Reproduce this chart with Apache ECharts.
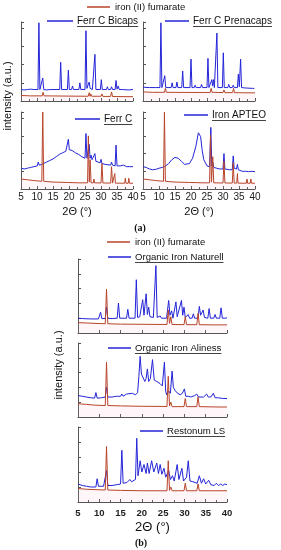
<!DOCTYPE html>
<html><head><meta charset="utf-8">
<script src="https://cdn.jsdelivr.net/npm/echarts@6/dist/echarts.min.js"></script>
<style>html,body{margin:0;padding:0;background:#fff}#c{width:281px;height:550px}</style>
</head><body><div id="c"></div>
<script>
// ---------- DATA (2θ in degrees, intensity in a.u. as % of panel height) ----------
const fumarateName = 'iron (II) fumarate';
const sampleNames = ['Ferr C Bicaps', 'Ferr C Prenacaps', 'Ferr C', 'Iron APTEO',
  'Organic Iron Naturell', 'Organic Iron Aliness', 'Restonum LS'];
const xTickLabels = [5, 10, 15, 20, 25, 30, 35, 40];

const bicaps = [[5,14.5],[6,14],[7,14.5],[8,15],[9,14.5],[10.3,14.5],[10.6,99],[10.9,14.5],[11.5,14.5],[11.8,29],[12.1,14.5],[13,14],[14,14.5],[15.3,14.5],[15.6,16.5],[15.9,14.5],[17.1,14.5],[17.4,49],[17.7,14.5],[19.5,14.5],[19.8,39],[20.1,14.5],[20.8,14.5],[21.1,19],[21.4,14.5],[23.1,14.5],[23.4,23],[23.7,14.5],[25.0,14.5],[25.3,89],[25.6,16],[26.0,16],[26.3,24],[26.6,16],[27,17],[27.3,14.5],[27.8,14.5],[28.1,59],[28.4,14.5],[29.8,14.5],[30.1,27],[30.4,14.5],[31.7,14.5],[32,18],[32.3,14.5],[33,14.5],[33.3,18],[33.6,14.5],[34.4,14.5],[34.7,26],[35.0,15],[35.4,19],[35.7,14.5],[36.7,14.5],[37,15.5],[37.3,14],[38.5,14],[38.8,16],[39.1,14],[40,14.5]];
const fumA1 = [[5,7],[8,6.5],[11.6,6.5],[11.9,11],[12.2,6.5],[20,6.2],[26.0,6],[26.3,10.5],[26.6,6],[26.8,9],[27.1,6],[30.0,6],[30.3,9],[30.6,5.8],[33.0,5.8],[33.3,11.5],[33.6,5.7],[37.5,5.5],[40,5.5]];

const prenacaps = [[5,17.5],[7,17],[9,17],[10.3,17],[10.6,99],[10.9,17],[11.5,17],[11.8,32],[12.1,17],[13.8,17],[14.1,23],[14.4,17],[15.3,17],[15.6,24],[15.9,17],[17.1,17],[17.4,38],[17.7,17],[19.7,17],[20,53],[20.3,17],[21,17],[21.3,20],[21.6,17],[23,17],[23.3,21],[23.6,17],[25,17],[25.3,54],[25.6,17],[26.2,18],[26.5,27],[26.75,19],[27,27],[27.3,17],[27.8,17],[28.1,86],[28.4,17],[29.8,17],[30.1,61],[30.4,17],[31.5,17],[31.8,21],[32.1,17],[32.9,17],[33.2,20],[33.5,17],[34.5,17],[34.8,34],[35.1,18],[35.5,53],[35.8,17],[36.9,16.5],[37.2,19],[37.5,16.5],[39.2,16],[39.5,18],[39.8,16],[40,16]];
const fumA2 = [[5,11.5],[8,11],[11.7,11],[12,16],[12.3,11],[20,10.8],[26,10.8],[26.3,16],[26.6,11],[26.8,13],[27.1,10.8],[30,10.7],[30.3,14],[30.6,10.6],[33,10.6],[33.3,16],[33.6,10.5],[40,10.3]];

const ferrC = [[5,27],[6,26],[7,27],[8,28],[9,29],[10.1,30],[10.4,35],[10.7,31],[11.5,32],[12,33],[13,35],[14,37],[15,39],[16,42],[17,45],[18,47],[19,49],[19.5,50],[19.8,64.5],[20.1,51],[21,50],[22,47],[23,45],[24,42],[25,40],[25.3,72],[25.6,40],[26.0,40],[26.3,58],[26.6,40],[26.9,44],[27.2,38],[27.8,37],[28.1,46],[28.4,36],[29,35],[29.7,34],[30,38.5],[30.3,33],[31.3,32],[31.6,33],[31.9,31],[33,31],[33.3,35],[33.6,31],[34.4,30],[34.7,57],[35,30],[36,30],[37,31],[37.3,29],[38,29],[39,29],[40,29]];
const fumA3 = [[5,13],[7,12],[9,11],[11.5,10],[11.8,100],[12.1,10],[15,9],[19.5,8.5],[19.7,11],[19.9,8.5],[23.2,8],[23.4,10],[23.6,8],[25.8,8],[26.05,69],[26.35,9],[26.6,38],[26.9,8],[27.6,8],[27.8,13],[28.0,8],[30.0,7.8],[30.3,33],[30.6,7.8],[33.0,7.7],[33.3,29],[33.6,7.7],[34.1,7.7],[34.3,20],[34.5,7.6],[37.4,7.5],[37.6,14],[37.8,7.5],[38.5,7.5],[38.7,14],[38.9,7.5],[40,7.5]];

const apteo = [[5,29],[6,28],[7,26],[8,25],[9,25.5],[10,27],[11,28],[11.7,29],[12,28],[13,33],[14,38],[15,41],[16,40],[17,36],[18,32],[18.6,31],[19.5,33],[20.5,40],[21.5,55],[22.3,73],[22.6,75],[23,68],[23.5,50],[24,38],[25,30],[25.8,29],[26.2,80],[26.5,30],[26.8,35],[27.1,28],[28,27],[29,26],[30,26],[30.3,46],[30.6,26],[32,25],[32.9,25],[33.2,43],[33.5,27],[34.2,26],[34.5,32],[34.8,25],[36,23],[37,23],[38,22.5],[39,23],[40,22.5]];
const fumA4 = [[5,13],[7,12],[9,11],[11.4,10],[11.7,100],[12.0,10],[15,9],[19.5,8.5],[21.5,8.3],[21.7,10],[21.9,8.3],[23.8,8],[24,10],[24.2,8],[25.8,8],[26.1,70],[26.4,9],[26.8,42],[27.1,8],[30.0,7.8],[30.3,36],[30.6,7.8],[32.9,7.7],[33.2,34],[33.5,7.7],[34.3,7.7],[34.5,20],[34.7,7.6],[37.3,7.5],[37.5,13],[37.7,7.5],[38.5,7.5],[38.7,13],[38.9,7.5],[40,7.5]];

const naturell = [[5,20],[6,19.5],[8,19],[9.8,19],[10.3,28],[10.6,19.5],[11.4,19.5],[11.7,35],[12,20],[13,19.5],[14.2,20],[14.5,40.5],[14.8,20],[16.4,20],[16.7,32],[17,20],[18.4,20],[18.7,72],[19,21],[19.5,22],[19.9,23],[20.2,45],[20.5,24],[21,53],[21.3,25],[21.6,35],[21.9,22],[22.7,21],[23,22],[23.3,91],[23.6,21],[24,21],[24.3,23],[24.6,20],[25.8,20],[26.3,44],[26.6,24],[27,30],[27.3,20],[27.7,20],[28,42],[28.3,22],[28.7,22],[29.3,44],[29.6,24],[29.9,35],[30.2,21],[30.6,20],[30.9,25],[31.2,20],[31.8,20],[32.1,26],[32.4,20],[33.2,20],[33.5,36],[33.8,24],[34.4,31],[34.7,21],[35.5,20],[35.8,33],[36.1,20],[36.9,20],[37.2,25],[37.5,20],[38.3,20],[38.6,34],[38.9,20],[39.5,20],[40,20.5]];
const fumB1 = [[5,14],[7,13.5],[9,13],[11.4,12.5],[11.7,59],[12,12.5],[15,12],[20,11.8],[25.9,11.5],[26.2,31],[26.5,13],[26.8,22],[27.1,11.5],[29.9,11.3],[30.2,22],[30.5,11.3],[32.9,11.2],[33.2,26.5],[33.5,11.2],[37,11],[37.2,13],[37.4,11],[38.4,11],[38.6,13],[38.8,11],[40,11]];

const aliness = [[5,29],[6,28],[7,27],[8,26],[8.9,25.5],[9.2,33],[9.5,25.5],[10.5,26],[11.4,27],[11.7,40],[12,27],[13,27],[14,28],[15,28],[15.3,31],[15.6,28],[16.4,31],[16.7,29],[17.8,32],[18.5,30],[19,33],[19.3,55],[19.6,82],[19.9,58],[20.3,59],[20.7,48],[21,52],[21.3,65],[21.6,48],[22,52],[22.5,77.5],[22.9,50],[23.5,48],[24.3,45],[24.8,42],[25.3,74],[25.6,35],[25.8,30],[26.3,35],[26.7,32],[27.1,62],[27.4,40],[27.8,36],[28.2,33],[29,30],[29.5,32],[30,38],[30.3,28],[30.9,28],[31.5,27],[32.4,29],[32.9,31],[33.3,27],[33.6,26],[34.5,27],[35.2,31],[35.6,27],[36.2,27],[36.8,32],[37.2,26],[38,26],[38.3,27],[39,25],[40,25]];
const fumB2 = [[5,18],[7,17],[9,16],[11.4,15.5],[11.7,74],[12,15.5],[15,15],[20,14.5],[25.9,14.2],[26.2,55],[26.5,15],[26.8,20],[27.1,14],[29.9,14],[30.2,25],[30.5,14],[32.9,14],[33.2,27],[33.5,14],[37,13.6],[37.2,16],[37.4,13.6],[38.4,13.5],[38.6,16],[38.8,13.5],[40,13.5]];

const restonum = [[5,24],[6,22],[7,21],[8,20],[9.2,20],[9.5,31],[9.8,21],[11,21],[11.4,21],[11.7,42],[12,22],[13,22],[14,23],[15,24],[15.3,69],[15.6,25],[16.5,26],[17.2,30],[17.6,27],[18.5,30],[18.8,85],[19.1,35],[19.6,55],[20,40],[20.5,50],[21,38],[21.3,52],[21.7,38],[22.3,55],[22.8,40],[23.5,52],[23.9,38],[24.3,50],[24.7,37],[25.2,45],[25.6,33],[26.0,32],[26.3,42],[26.7,30],[27.2,35],[27.6,28],[28.3,50],[28.7,30],[29.4,45],[29.8,28],[30.5,33],[30.9,55],[31.3,28],[32,27],[33,25],[33.5,35],[34,25],[34.5,31],[35,24],[35.7,29],[36.2,23],[37,22],[37.5,25],[38,22],[38.5,24],[39,22],[39.5,24],[40,23]];
const fumB3 = [[5,18],[7,17],[9,16.5],[11.4,16],[11.7,74],[12,16],[15,15.5],[20,15],[25.9,15],[26.2,55],[26.5,15.5],[26.8,20],[27.1,15],[29.9,15],[30.2,25],[30.5,15],[32.9,15],[33.2,24],[33.5,15],[37,15],[37.2,17],[37.4,15],[40,15]];

const samples = [bicaps, prenacaps, ferrC, apteo, naturell, aliness, restonum];
const fumarates = [fumA1, fumA2, fumA3, fumA4, fumB1, fumB2, fumB3];

// ---------- LAYOUT ----------
const grids = [
  {left: 21, top: 22, width: 112, height: 79},
  {left: 143, top: 22, width: 112, height: 79},
  {left: 21, top: 112, width: 112, height: 77},
  {left: 143, top: 112, width: 112, height: 77},
  {left: 78, top: 259, width: 149, height: 74},
  {left: 78, top: 343, width: 149, height: 74},
  {left: 78, top: 427, width: 149, height: 75}
];
// legend for each sample: [left of line, line width, centre y, font size]
const legendPos = [[47, 26, 21, 10], [165, 24, 21, 10], [75, 25, 119, 10], [184, 24, 115, 10],
  [108, 23, 257, 9.6], [108, 23, 348, 9.6], [140, 23, 431, 9.6]];
const BLUE = '#2424d8', RED = '#b8452a', AXIS = '#555';
const FONT = '"Liberation Sans", Arial, sans-serif';

const ctx = document.createElement('canvas').getContext('2d');
function textW(t, size) { ctx.font = size + 'px "Liberation Sans"'; return ctx.measureText(t).width; }

const xAxes = [], yAxes = [], series = [], legends = [], graphics = [];
grids.forEach((g, i) => {
  const isB = i >= 4;
  const showLabels = (i === 2 || i === 3 || i === 6);
  xAxes.push({
    type: 'value', gridIndex: i, min: 5, max: 40, interval: 5,
    axisLine: {lineStyle: {color: AXIS, width: 1}},
    axisTick: {show: true, inside: true, length: 3, lineStyle: {color: AXIS}},
    minorTick: {show: !isB || i === 6, splitNumber: 2, length: 2, lineStyle: {color: AXIS}},
    splitLine: {show: false},
    axisLabel: {show: showLabels, fontSize: isB ? 9.5 : 10, fontWeight: isB ? 'bold' : 'normal',
      color: '#222', fontFamily: FONT, margin: isB ? 6 : 3,
      formatter: v => xTickLabels.includes(v) ? String(v) : ''},
    name: showLabels ? '2Θ (°)' : '', nameLocation: 'middle', nameGap: isB ? 19 : 17,
    nameTextStyle: {fontSize: isB ? 13 : 11, color: '#111', fontFamily: FONT}
  });
  yAxes.push({
    type: 'value', gridIndex: i, min: 0, max: 100, interval: isB ? 20 : 23,
    axisLine: {show: true, lineStyle: {color: AXIS, width: 1}},
    axisTick: {show: true, inside: true, length: 3, lineStyle: {color: AXIS}},
    axisLabel: {show: false}, splitLine: {show: false}
  });
  series.push({
    name: sampleNames[i], type: 'line', xAxisIndex: i, yAxisIndex: i, data: samples[i],
    symbol: 'none', lineStyle: {color: BLUE, width: 1}, itemStyle: {color: BLUE}, z: 2, animation: false
  });
  series.push({
    name: fumarateName, type: 'line', xAxisIndex: i, yAxisIndex: i, data: fumarates[i],
    symbol: 'none', lineStyle: {color: RED, width: 1}, itemStyle: {color: RED},
    areaStyle: {color: 'rgba(255,175,215,0.16)'}, z: 3, animation: false
  });
  const [lx, lw, ly, fs] = legendPos[i];
  legends.push({
    data: [sampleNames[i]], left: lx, top: ly - 6, padding: 0, itemWidth: lw, itemHeight: 1.5,
    icon: 'rect', itemGap: 0, selectedMode: false,
    textStyle: {fontSize: fs, color: '#111', fontFamily: FONT, lineHeight: 12, padding: [0, 0, 0, -1]}
  });
  const tx = lx + lw + 4, w = textW(sampleNames[i], fs);
  graphics.push({type: 'line', shape: {x1: tx, y1: ly + 5.5, x2: tx + w, y2: ly + 5.5},
    style: {stroke: '#111', lineWidth: 0.8}, silent: true});
});
// shared fumarate legends
legends.push({data: [fumarateName], left: 87, top: 1, padding: 0, itemWidth: 23, itemHeight: 1.5,
  icon: 'rect', selectedMode: false, textStyle: {fontSize: 9.5, color: '#111', fontFamily: FONT, lineHeight: 12}});
legends.push({data: [fumarateName], left: 107, top: 236, padding: 0, itemWidth: 23, itemHeight: 1.5,
  icon: 'rect', selectedMode: false, textStyle: {fontSize: 9.5, color: '#111', fontFamily: FONT, lineHeight: 12}});

graphics.push(
  {type: 'text', x: 8, y: 96, rotation: Math.PI / 2,
    style: {text: 'intensity (a.u.)', font: '11px ' + FONT, fill: '#111', align: 'center', verticalAlign: 'middle'}},
  {type: 'text', x: 59, y: 365, rotation: Math.PI / 2,
    style: {text: 'intensity (a.u.)', font: '11px ' + FONT, fill: '#111', align: 'center', verticalAlign: 'middle'}},
  {type: 'text', x: 140, y: 228,
    style: {text: '(a)', font: 'bold 10px "Liberation Serif", serif', fill: '#111', align: 'center', verticalAlign: 'middle'}},
  {type: 'text', x: 141, y: 543,
    style: {text: '(b)', font: 'bold 10px "Liberation Serif", serif', fill: '#111', align: 'center', verticalAlign: 'middle'}}
);

const chart = echarts.init(document.getElementById('c'), null, {renderer: 'canvas'});
chart.setOption({
  animation: false, backgroundColor: '#fff',
  grid: grids, xAxis: xAxes, yAxis: yAxes, series: series, legend: legends, graphic: graphics
});
</script></body></html>
